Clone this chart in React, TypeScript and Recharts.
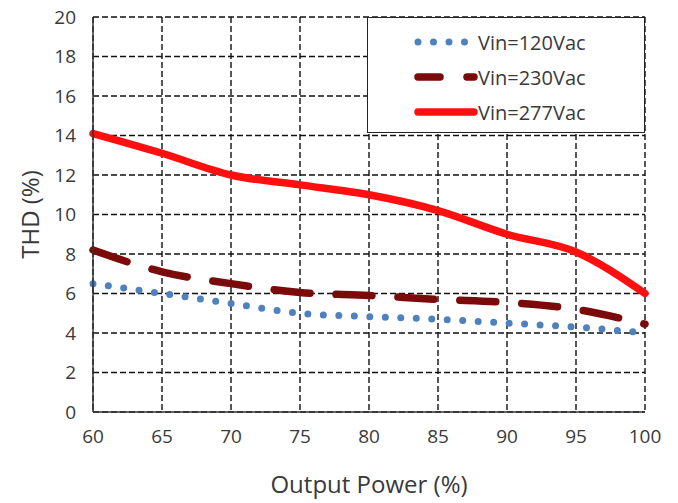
import React from "react"
import { CartesianGrid, Label, Line, LineChart, XAxis, YAxis } from "recharts"

const outputPower = [60, 65, 70, 75, 80, 85, 90, 95, 100]
const vin120 = [6.5, 6.0, 5.5, 5.0, 4.83, 4.7, 4.5, 4.3, 4.0]
const vin230 = [8.2, 7.1, 6.5, 6.05, 5.9, 5.7, 5.55, 5.2, 4.45]
const vin277 = [14.1, 13.1, 12.0, 11.5, 11.0, 10.2, 9.0, 8.1, 6.0]

const xTicks = [60, 65, 70, 75, 80, 85, 90, 95, 100]
const yTicks = [0, 2, 4, 6, 8, 10, 12, 14, 16, 18, 20]

const data = outputPower.map((p, i) => ({
  power: p,
  v120: vin120[i],
  v230: vin230[i],
  v277: vin277[i],
}))

const series = [
  { key: "v120", name: "Vin=120Vac", color: "#4F81BD", width: 7, dash: "0 15.5", cap: "round" as const },
  { key: "v230", name: "Vin=230Vac", color: "#7B0A0A", width: 7.5, dash: "36 26", cap: "round" as const },
  { key: "v277", name: "Vin=277Vac", color: "#FF0F0F", width: 7.5, dash: undefined, cap: "round" as const },
]

const font = "'Open Sans', 'Noto Sans', sans-serif"
const textColor = "#3a3a3a"

// legend box drawn over the top-right of the plot, like the original
function LegendBox() {
  return (
    <div
      style={{
        position: "absolute",
        left: 367,
        top: 17,
        width: 278,
        height: 116,
        boxSizing: "border-box",
        border: "1.5px solid #222",
        background: "#fff",
      }}
    >
      <svg width={275} height={113} style={{ display: "block" }}>
        {series.map((s, i) => {
          const y = 24 + i * 35
          return (
            <g key={s.key}>
              <line
                x1={50}
                x2={106}
                y1={y}
                y2={y}
                stroke={s.color}
                strokeWidth={s.width}
                strokeDasharray={s.key === "v230" ? "22 46" : s.dash}
                strokeLinecap={s.cap}
              />
              {s.key === "v230" && (
                <line x1={99} x2={106} y1={y} y2={y} stroke={s.color} strokeWidth={s.width} strokeLinecap="round" />
              )}
              <text
                x={110}
                y={y}
                dominantBaseline="central"
                fontFamily={font}
                fontSize={20}
                fill={textColor}
              >
                {s.name}
              </text>
            </g>
          )
        })}
      </svg>
    </div>
  )
}

export default function App() {
  return (
    <div style={{ position: "absolute", left: 0, top: 0, width: 678, height: 503, background: "#fff" }}>
      <LineChart width={678} height={503} data={data} margin={{ top: 17, right: 33, left: 0, bottom: 0 }}>
        <CartesianGrid stroke="#111" strokeDasharray="6 3" strokeWidth={1.4} />
        <XAxis
          dataKey="power"
          type="number"
          domain={[60, 100]}
          ticks={xTicks}
          height={91}
          tickLine={false}
          axisLine={{ stroke: "#333", strokeWidth: 1.5 }}
          tickMargin={12}
          tick={{ fontFamily: font, fontSize: 19, fill: textColor }}
        >
          <Label
            value="Output Power (%)"
            position="insideBottom"
            offset={10}
            style={{ fontFamily: font, fontSize: 24, fill: textColor }}
          />
        </XAxis>
        <YAxis
          type="number"
          domain={[0, 20]}
          ticks={yTicks}
          width={93}
          tickLine={false}
          axisLine={{ stroke: "#333", strokeWidth: 1.5 }}
          tickMargin={11}
          tick={{ fontFamily: font, fontSize: 19, fill: textColor }}
        >
          <Label
            content={(props: any) => {
              const vb = props.viewBox || {}
              const cx = (vb.x || 0) + 29
              const cy = (vb.y || 0) + (vb.height || 0) / 2
              return (
                <text
                  x={cx}
                  y={cy}
                  transform={`rotate(-90, ${cx}, ${cy})`}
                  textAnchor="middle"
                  dominantBaseline="central"
                  fontFamily={font}
                  fontSize={24}
                  fill={textColor}
                >
                  THD (%)
                </text>
              )
            }}
          />
        </YAxis>
        {series.map((s) => (
          <Line
            key={s.key}
            type="monotone"
            dataKey={s.key}
            name={s.name}
            stroke={s.color}
            strokeWidth={s.width}
            strokeDasharray={s.dash}
            strokeLinecap={s.cap}
            dot={false}
            activeDot={false}
            isAnimationActive={false}
          />
        ))}
      </LineChart>
      <LegendBox />
    </div>
  )
}
